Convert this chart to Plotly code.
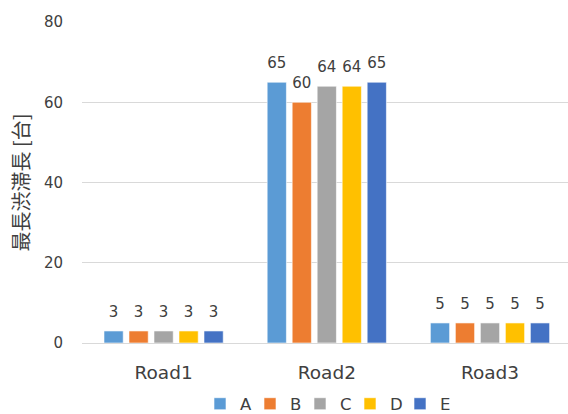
import plotly.graph_objects as go

categories = ["Road1", "Road2", "Road3"]
series_names = ["A", "B", "C", "D", "E"]
values_A = [3, 65, 5]
values_B = [3, 60, 5]
values_C = [3, 64, 5]
values_D = [3, 64, 5]
values_E = [3, 65, 5]
series_values = [values_A, values_B, values_C, values_D, values_E]
colors = ["#5B9BD5", "#ED7D31", "#A5A5A5", "#FFC000", "#4472C4"]
y_ticks = [0, 20, 40, 60, 80]

FONT = "DejaVu Sans"
fig = go.Figure()
for name, vals, col in zip(series_names, series_values, colors):
    fig.add_trace(go.Bar(
        x=categories, y=vals, name=name,
        marker=dict(color=col, line=dict(color="white", width=0.6)),
        text=["<span style='font-size:15px'>%d</span><br> " % v for v in vals],
        textposition="outside",
        textfont=dict(family=FONT, size=7, color="#404040"),
        cliponaxis=False,
    ))

fig.update_layout(
    width=568, height=414,
    margin=dict(l=82, r=0, t=22, b=71, autoexpand=False),
    paper_bgcolor="white", plot_bgcolor="white",
    barmode="group", bargap=0.234, bargroupgap=0.23,
    font=dict(family=FONT, color="#404040"),
    showlegend=True,
    legend=dict(orientation="h", x=0.5, xanchor="center", y=-0.19, yanchor="middle",
                entrywidth=5, entrywidthmode="pixels",
                font=dict(family=FONT, size=16.5, color="#404040")),
    xaxis=dict(range=[-0.5, 2.478], showgrid=False, showline=False, ticks="",
               ticklabelstandoff=16, automargin=False,
               tickfont=dict(family=FONT, size=18.5, color="#404040")),
    yaxis=dict(range=[0, 80], tickvals=y_ticks, showgrid=True, gridcolor="#D9D9D9",
               gridwidth=1, zeroline=True, zerolinecolor="#D9D9D9", zerolinewidth=1,
               showline=False, ticks="", ticklabelstandoff=18, automargin=False,
               tickfont=dict(family=FONT, size=15, color="#404040"),
               title=dict(text="最長渋滞長 [台]", standoff=8,
                          font=dict(family="Noto Sans CJK JP", size=20, color="#404040"))),
)
fig.write_html("out.html")
